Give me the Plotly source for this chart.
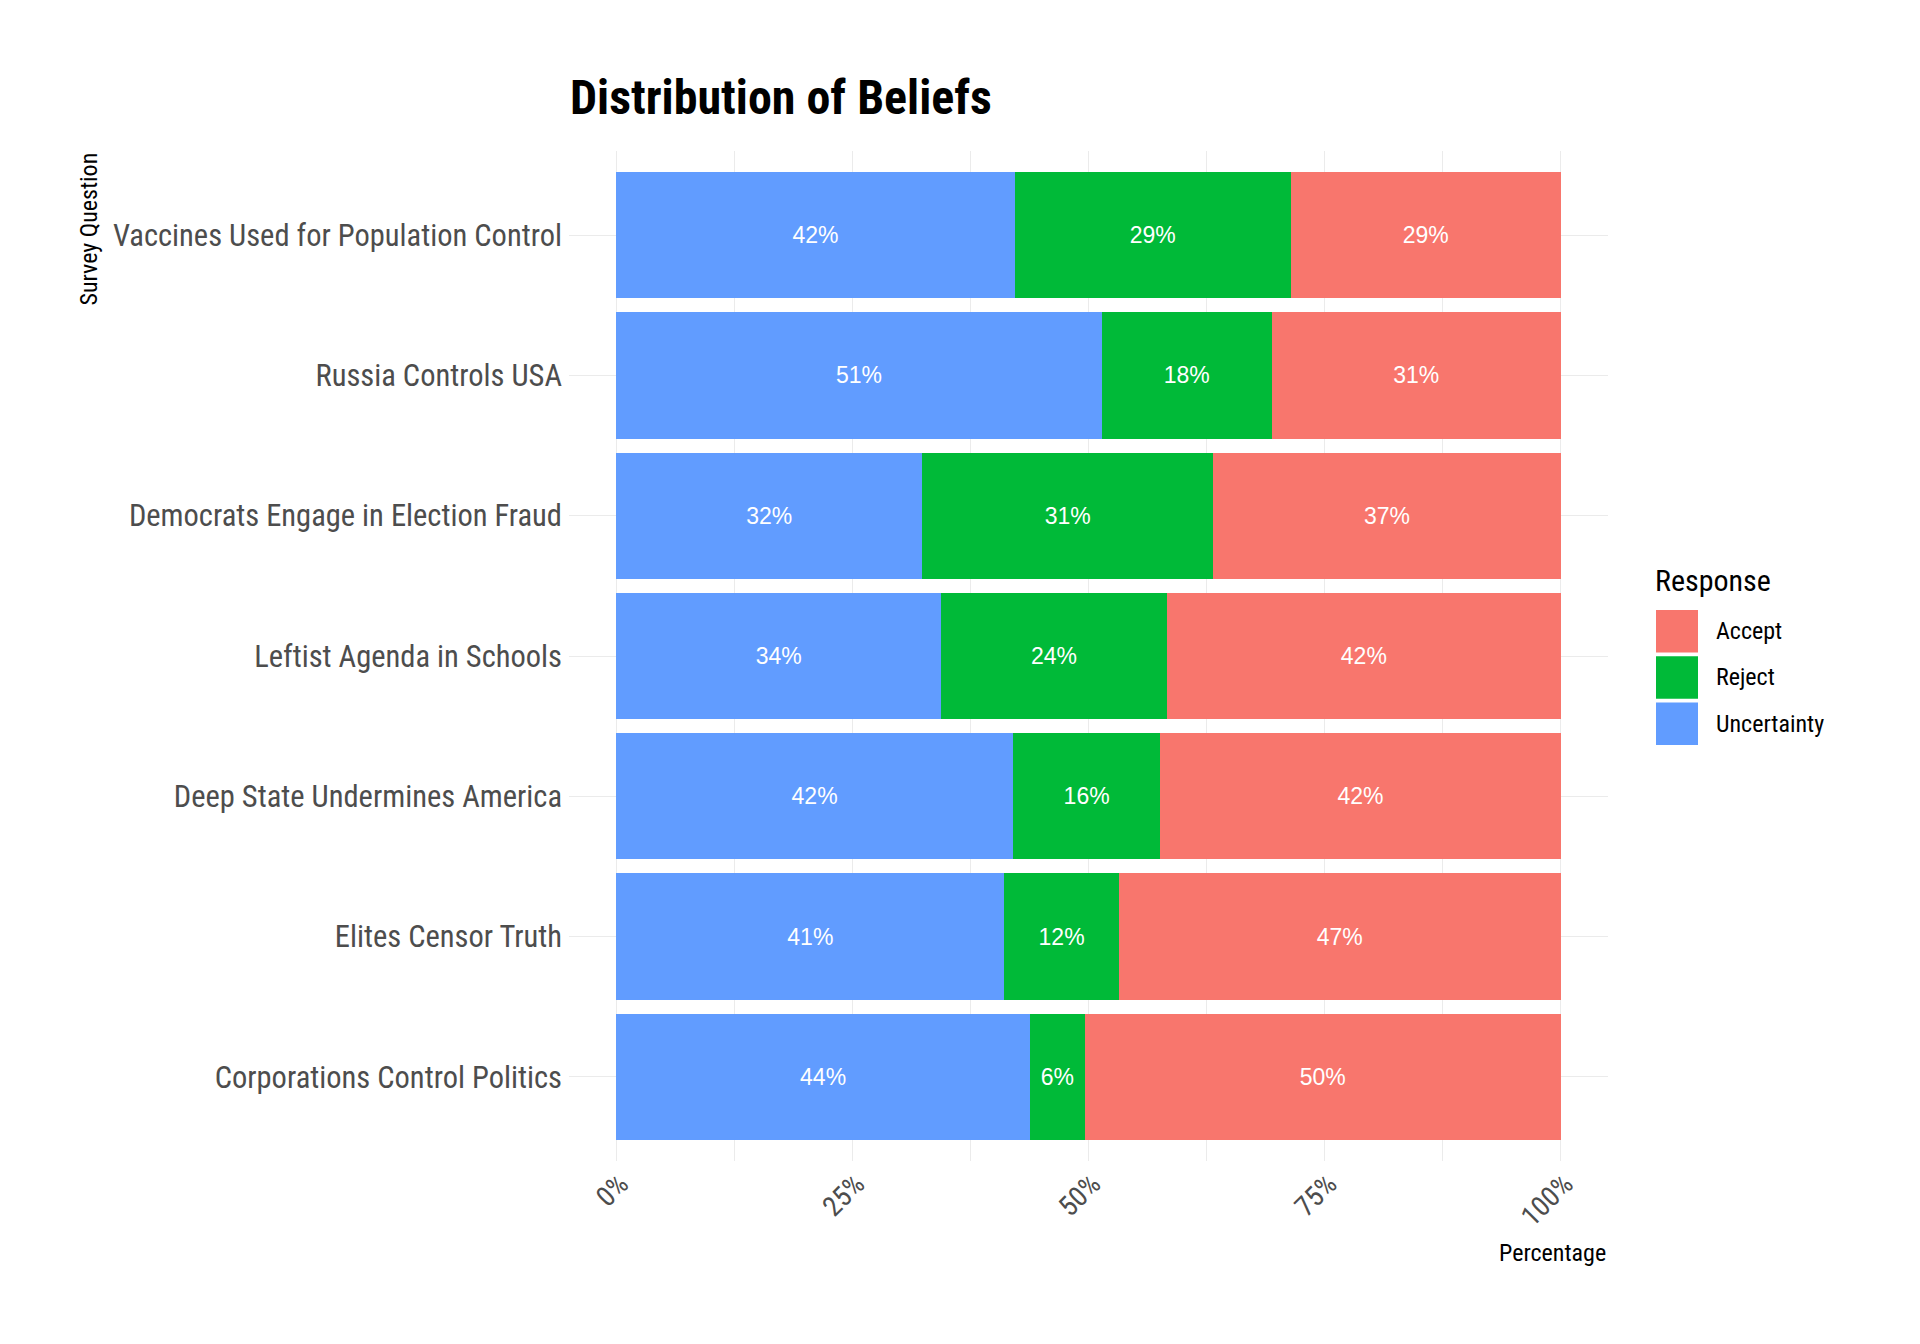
import plotly.graph_objects as go

# ---- data (percent of respondents), top-to-bottom order ----
questions = [
    "Vaccines Used for Population Control",
    "Russia Controls USA",
    "Democrats Engage in Election Fraud",
    "Leftist Agenda in Schools",
    "Deep State Undermines America",
    "Elites Censor Truth",
    "Corporations Control Politics",
]
uncertainty = [42.2, 51.4, 32.4, 34.4, 42.0, 41.1, 43.8]
reject = [29.2, 18.0, 30.8, 23.9, 15.6, 12.1, 5.8]
accept = [28.6, 30.6, 36.8, 41.7, 42.4, 46.8, 50.4]

responses = ["Uncertainty", "Reject", "Accept"]
colors = {"Uncertainty": "#619CFF", "Reject": "#00BA38", "Accept": "#F8766D"}
legend_order = ["Accept", "Reject", "Uncertainty"]
x_ticks = [0, 25, 50, 75, 100]
x_ticklabels = ["0%", "25%", "50%", "75%", "100%"]

series = {"Uncertainty": uncertainty, "Reject": reject, "Accept": accept}

COND = "Roboto Condensed, Liberation Sans Narrow, DejaVu Sans Condensed, Roboto, sans-serif"
OFF = 8  # page body margin
W, H = 1904, 1328
L, T = 561, 143
PW, PH = 1039, 1010
R, B = W - L - PW, H - T - PH


def px2x(x):
    # x given in page pixels of the reference
    return (x - OFF - L) / PW


def px2y(y):
    return (T + PH - (y - OFF)) / PH


fig = go.Figure()
for name in responses:
    vals = series[name]
    fig.add_trace(go.Bar(
        y=questions,
        x=vals,
        name=name,
        orientation="h",
        marker=dict(color=colors[name], line=dict(width=0)),
        text=[f"{round(v)}%" for v in vals],
        textposition="inside",
        insidetextanchor="middle",
        textangle=0,
        constraintext="none",
        textfont=dict(family="Liberation Sans, Arial, sans-serif", size=23, color="white"),
        showlegend=False,
    ))

shapes = []
annotations = []

# axis titles
annotations.append(dict(
    text="Survey Question", textangle=-90, showarrow=False,
    xref="paper", yref="paper", x=px2x(88), y=px2y(151),
    xanchor="center", yanchor="top",
    font=dict(family=COND, size=24, color="black"),
))
annotations.append(dict(
    text="Percentage", showarrow=False,
    xref="paper", yref="paper", x=1, y=px2y(1253),
    xanchor="right", yanchor="middle",
    font=dict(family=COND, size=24, color="black"),
))

# legend (manual, to match large square keys)
annotations.append(dict(
    text="Response", showarrow=False,
    xref="paper", yref="paper", x=px2x(1653), y=px2y(580),
    xanchor="left", yanchor="middle",
    font=dict(family=COND, size=30, color="black"),
))
key_top = 610
key_size = 42.5
key_step = 46.2
for i, name in enumerate(legend_order):
    y0 = key_top + i * key_step
    shapes.append(dict(
        type="rect", xref="paper", yref="paper",
        x0=px2x(1656), x1=px2x(1698), y0=px2y(y0), y1=px2y(y0 + key_size),
        fillcolor=colors[name], line=dict(width=0), layer="above",
    ))
    annotations.append(dict(
        text=name, showarrow=False,
        xref="paper", yref="paper", x=px2x(1714), y=px2y(y0 + key_size / 2),
        xanchor="left", yanchor="middle",
        font=dict(family=COND, size=24, color="black"),
    ))

fig.update_layout(
    width=W, height=H,
    barmode="stack",
    bargap=0.1,
    plot_bgcolor="white",
    paper_bgcolor="white",
    margin=dict(l=L, r=R, t=T, b=B, pad=0),
    title=dict(
        text="<b>Distribution of Beliefs</b>",
        font=dict(family=COND, size=48, color="black"),
        xref="container", yref="container",
        x=(570 - OFF) / W, xanchor="left",
        y=1 - (97 - OFF) / H, yanchor="middle",
    ),
    xaxis=dict(
        range=[-5, 105],
        tickvals=x_ticks, ticktext=x_ticklabels,
        tickangle=-45,
        tickfont=dict(family=COND, size=28, color="#4D4D4D"),
        showgrid=True, gridcolor="#EBEBEB", gridwidth=1.4,
        minor=dict(dtick=12.5, tick0=0, showgrid=True, gridcolor="#EBEBEB", gridwidth=0.8),
        zeroline=False, showline=False, ticks="",
        ticklabelstandoff=0,
        ticklabelshift=4,
        fixedrange=True,
    ),
    yaxis=dict(
        categoryorder="array", categoryarray=questions,
        range=[6.6, -0.6],
        tickfont=dict(family=COND, size=30.5, color="#4D4D4D"),
        showgrid=True, gridcolor="#EBEBEB", gridwidth=1.4,
        zeroline=False, showline=False, ticks="",
        ticklabelstandoff=6,
        fixedrange=True,
    ),
    shapes=shapes,
    annotations=annotations,
    showlegend=False,
)

fig.write_html("out.html")
